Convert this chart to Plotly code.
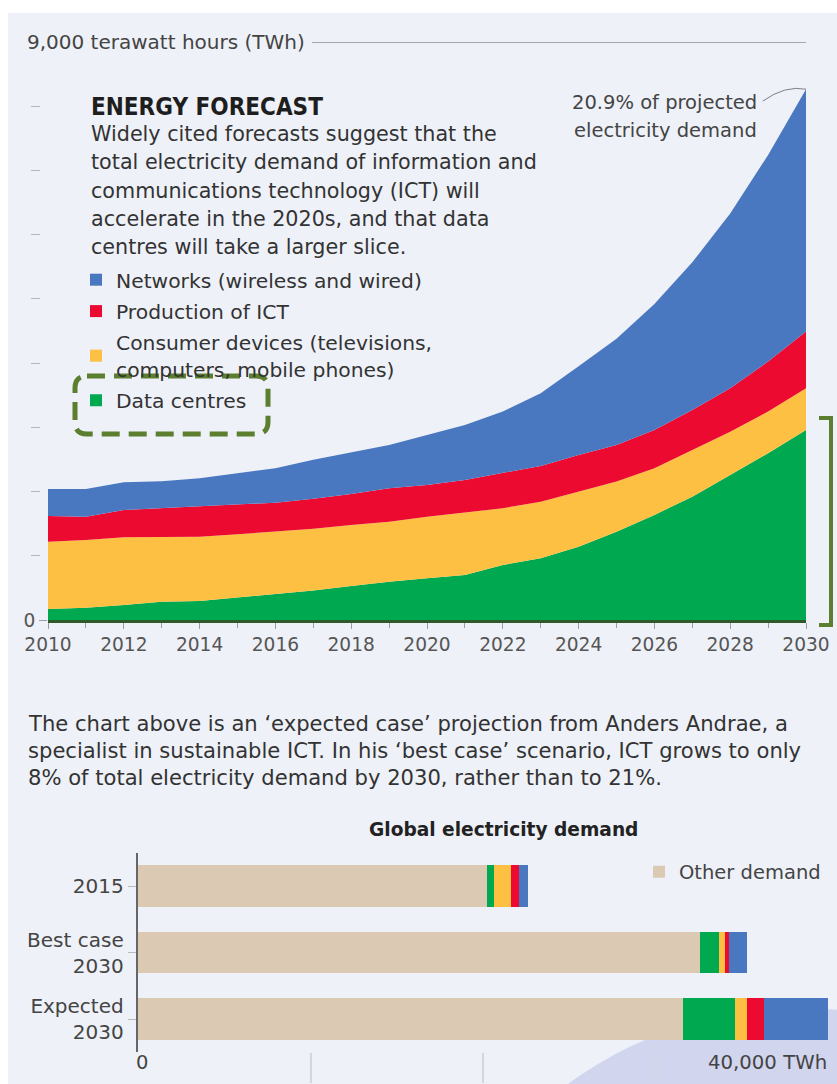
import plotly.graph_objects as go

W, H = 837, 1084

# ---------------- data ----------------
years = list(range(2010, 2031))
data_centres = [171, 192, 234, 285, 296, 348, 400, 460, 530, 597, 649, 701, 857, 961, 1142, 1375, 1636, 1921, 2259, 2596, 2960]
consumer_devices = [1049, 1054, 1054, 1013, 1002, 987, 975, 960, 950, 934, 960, 970, 883, 882, 857, 780, 727, 727, 674, 649, 649]
production_ict = [400, 363, 425, 442, 467, 467, 452, 468, 483, 520, 494, 510, 545, 556, 571, 571, 597, 623, 676, 779, 882]
networks = [420, 431, 432, 420, 442, 483, 536, 607, 643, 675, 779, 856, 960, 1132, 1380, 1654, 1960, 2299, 2721, 3216, 3774]

year_ticks = list(range(2010, 2031, 2))
y_dashes = list(range(1000, 9000, 1000))

scenarios = ["2015", "Best case<br>2030", "Expected<br>2030"]
other_demand = [20230, 32520, 31570]
bar_data_centres = [372, 1093, 3011]
bar_consumer = [1023, 395, 651]
bar_production = [465, 186, 994]
bar_networks = [465, 1058, 3721]

names = ["Data centres", "Consumer devices (televisions,<br>computers, mobile phones)",
         "Production of ICT", "Networks (wireless and wired)"]
colors = ["#00a94f", "#fdc043", "#ec0a31", "#4a78c0"]
legend_ranks = [4, 3, 2, 1]
beige = "#dcc9b4"
olive = "#5b7f2f"
bg = "#eef1f8"
BODY = "DejaVu Sans"

def px(x):
    return x / W

def py(y):
    return 1 - y / H

fig = go.Figure()

# ---------------- top stacked area ----------------
for name, vals, col in zip(names, [data_centres, consumer_devices, production_ict, networks], colors):
    fig.add_trace(go.Scatter(x=years, y=vals, name=name, stackgroup="ict", mode="lines",
                             line=dict(width=0, color=col), fillcolor=col, showlegend=False,
                             xaxis="x", yaxis="y", hoverinfo="skip"))

# helper trace so the detached tick-dash axis exists
fig.add_trace(go.Scatter(x=[years[0]], y=[0], mode="markers", marker=dict(opacity=0),
                         showlegend=False, xaxis="x", yaxis="y3", hoverinfo="skip"))

# ---------------- bottom horizontal bars ----------------
fig.add_trace(go.Bar(y=scenarios, x=other_demand, orientation="h", name="Other demand",
                     marker=dict(color=beige, line=dict(width=0)), xaxis="x2", yaxis="y2",
                     legend="legend2"))
for i, (name, vals, col) in enumerate(zip(names, [bar_data_centres, bar_consumer, bar_production, bar_networks], colors)):
    fig.add_trace(go.Bar(y=scenarios, x=vals, orientation="h", name=name,
                         marker=dict(color=col, line=dict(width=0)), xaxis="x2", yaxis="y2",
                         legend="legend", legendgroup="g%d" % i, legendrank=legend_ranks[i]))

# ---------------- shapes ----------------
shapes = []
shapes.append(dict(type="rect", xref="paper", yref="paper", x0=0, x1=1, y0=py(13), y1=1,
                   fillcolor="white", line=dict(width=0), layer="below"))
shapes.append(dict(type="rect", xref="paper", yref="paper", x0=0, x1=px(8), y0=0, y1=1,
                   fillcolor="white", line=dict(width=0), layer="below"))
shapes.append(dict(type="circle", xref="paper", yref="paper", x0=px(800 - 392), x1=px(800 + 392),
                   y0=py(1400 + 392), y1=py(1400 - 392), fillcolor="#d1d5ee", line=dict(width=0),
                   layer="below"))
shapes.append(dict(type="line", xref="paper", yref="y", x0=px(312), x1=px(806), y0=9000, y1=9000,
                   line=dict(color="#8a8d94", width=1.3)))
x0, x1, y0, y1, r = 75, 268, 376, 434, 12
def P(x, y):
    return "%.5f,%.5f" % (px(x), py(y))
path = ("M " + P(x0 + r, y0) + " L " + P(x1 - r, y0) + " Q " + P(x1, y0) + " " + P(x1, y0 + r) +
        " L " + P(x1, y1 - r) + " Q " + P(x1, y1) + " " + P(x1 - r, y1) +
        " L " + P(x0 + r, y1) + " Q " + P(x0, y1) + " " + P(x0, y1 - r) +
        " L " + P(x0, y0 + r) + " Q " + P(x0, y0) + " " + P(x0 + r, y0) + " Z")
shapes.append(dict(type="path", xref="paper", yref="paper", path=path,
                   line=dict(color=olive, width=5, dash="18px,9px")))
shapes.append(dict(type="path", xref="paper", yref="paper",
                   path="M " + P(819, 418) + " L " + P(831, 418) + " L " + P(831, 625) + " L " + P(819, 625),
                   line=dict(color=olive, width=4)))
total_2030 = data_centres[-1] + consumer_devices[-1] + production_ict[-1] + networks[-1]
shapes.append(dict(type="path", xref="x", yref="y",
                   path="M 2028.86,8080 Q 2029.45,8330 2030,%d" % total_2030,
                   line=dict(color="#7d7f86", width=1)))

# ---------------- annotations ----------------
ann = []
def txt(x, y, s, size=19, color="#333", family=BODY, xanchor="left"):
    ann.append(dict(x=px(x), y=py(y), xref="paper", yref="paper", text=s, showarrow=False,
                    xanchor=xanchor, yanchor="middle", font=dict(family=family, size=size, color=color)))

ann.append(dict(x=px(25), y=9000, xref="paper", yref="y", text="9,000 terawatt hours (TWh)",
                showarrow=False, xanchor="left", yanchor="middle",
                font=dict(family=BODY, size=20, color="#444")))
txt(89, 107, "<b>ENERGY FORECAST</b>", size=24, color="#1e1e1e", family="DejaVu Sans Condensed")
para = ["Widely cited forecasts suggest that the",
        "total electricity demand of information and",
        "communications technology (ICT) will",
        "accelerate in the 2020s, and that data",
        "centres will take a larger slice."]
for i, line in enumerate(para):
    txt(89, 134 + i * 28.3, line, size=20.7, color="#333")
txt(759, 103, "20.9% of projected", size=19.5, color="#444", xanchor="right")
txt(759, 130, "electricity demand", size=19.5, color="#444", xanchor="right")

mid = ["The chart above is an \u2018expected case\u2019 projection from Anders Andrae, a",
       "specialist in sustainable ICT. In his \u2018best case\u2019 scenario, ICT grows to only",
       "8% of total electricity demand by 2030, rather than to 21%."]
for i, line in enumerate(mid):
    txt(26, 723 + i * 27, line, size=21.1, color="#333")

txt(503, 829, "<b>Global electricity demand</b>", size=18.6, color="#222", xanchor="center")
ann.append(dict(x=0, y=py(1062), xref="x2", yref="paper", text="0", showarrow=False, xanchor="left",
                xshift=-4, yanchor="middle", font=dict(family=BODY, size=19.5, color="#444")))
ann.append(dict(x=40000, y=py(1062), xref="x2", yref="paper", text="40,000 TWh", showarrow=False,
                xanchor="right", yanchor="middle", font=dict(family=BODY, size=19.7, color="#444")))

fig.update_layout(
    width=W, height=H, margin=dict(l=0, r=0, t=0, b=0, autoexpand=False),
    paper_bgcolor=bg, plot_bgcolor="rgba(0,0,0,0)",
    barmode="stack", bargap=0.37,
    shapes=shapes, annotations=ann,
    xaxis=dict(domain=[px(48), px(806)], range=[2010, 2030], anchor="y", automargin=False,
               tickvals=year_ticks, ticks="outside", ticklen=6, tickcolor="#9a9da5",
               minor=dict(ticks="outside", dtick=1, ticklen=5, tickcolor="#9a9da5"),
               showline=True, linecolor="#2e5a2c", linewidth=3, showgrid=False, zeroline=False,
               tickfont=dict(family=BODY, size=18.6, color="#555")),
    yaxis=dict(domain=[py(620), py(42)], range=[0, 9000], anchor="x", automargin=False,
               tickvals=[0], ticktext=["0"], ticks="outside", ticklen=8, tickcolor="#9a9da5",
               showline=False, showgrid=False, zeroline=False,
               tickfont=dict(family=BODY, size=18.6, color="#555")),
    yaxis3=dict(overlaying="y", anchor="free", position=px(40), side="left", range=[0, 9000],
                automargin=False, tickvals=y_dashes, ticks="outside", ticklen=9, tickcolor="#b3b6be",
                showticklabels=False, showline=False, showgrid=False, zeroline=False),
    xaxis2=dict(domain=[px(137.7), px(829)], range=[0, 40000], anchor="y2", automargin=False,
                tickvals=[10000, 20000, 30000], ticks="outside", ticklen=30, tickcolor="#d2d6e3",
                tickwidth=1.5, showticklabels=False, showline=False, showgrid=False, zeroline=False),
    yaxis2=dict(domain=[1 - 1052.25 / H, 1 - 852.75 / H], anchor="x2", type="category",
                autorange="reversed", showline=True, linecolor="#666", linewidth=2, automargin=False,
                ticks="outside", ticklen=8, tickcolor="#bbb", showgrid=False, zeroline=False,
                tickfont=dict(family=BODY, size=20, color="#444")),
    legend=dict(x=px(76), y=py(260), xanchor="left", yanchor="top", bgcolor="rgba(0,0,0,0)",
                traceorder="grouped", tracegroupgap=2,
                font=dict(family=BODY, size=20.3, color="#333")),
    legend2=dict(x=px(639), y=py(872), xanchor="left", yanchor="middle", bgcolor="rgba(0,0,0,0)",
                 font=dict(family=BODY, size=19.5, color="#444")),
    showlegend=True,
)

fig.write_html("out.html")
